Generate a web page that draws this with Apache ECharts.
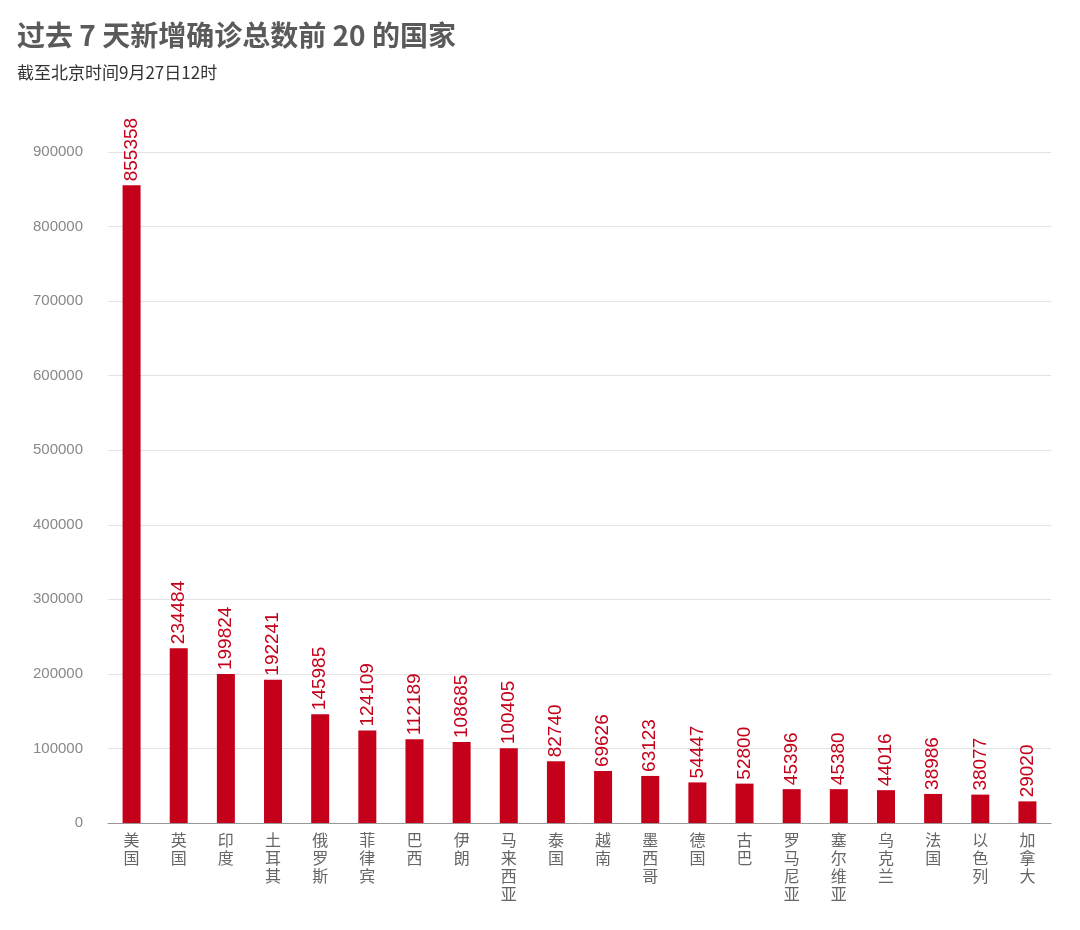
<!DOCTYPE html>
<html><head><meta charset="utf-8">
<script src="https://cdn.jsdelivr.net/npm/echarts@6/dist/echarts.min.js"></script>
<style>html,body{margin:0;padding:0;background:#fff}#c{width:1080px;height:930px}</style>
</head><body><div id="c"></div>
<script>
const categories = ['美国','英国','印度','土耳其','俄罗斯','菲律宾','巴西','伊朗','马来西亚','泰国','越南','墨西哥','德国','古巴','罗马尼亚','塞尔维亚','乌克兰','法国','以色列','加拿大'];
const values = [855358,234484,199824,192241,145985,124109,112189,108685,100405,82740,69626,63123,54447,52800,45396,45380,44016,38986,38077,29020];
const yTicks = [0,100000,200000,300000,400000,500000,600000,700000,800000,900000];

const chart = echarts.init(document.getElementById('c'));
chart.setOption({
  backgroundColor:'#fff',
  animation:false,
  title:{
    text:'过去 7 天新增确诊总数前 20 的国家',
    subtext:'截至北京时间9月27日12时',
    left:12, top:16,
    textStyle:{fontFamily:'Noto Sans CJK SC',fontSize:28,fontWeight:'bold',color:'#5a5a5a'},
    subtextStyle:{fontFamily:'Noto Sans CJK SC',fontSize:17,color:'#333'},
    itemGap:15
  },
  grid:{left:108,right:29,top:152,bottom:107,containLabel:false},
  xAxis:{
    type:'category',data:categories,
    axisLine:{lineStyle:{color:'#999'}},
    axisTick:{show:false},
    axisLabel:{
      interval:0,color:'#666',fontSize:16,lineHeight:18,margin:8,
      fontFamily:'Noto Sans CJK SC',
      formatter:v=>v.split('').join('\n')
    }
  },
  yAxis:{
    type:'value',min:0,max:yTicks[yTicks.length-1],interval:100000,
    axisLine:{show:false},axisTick:{show:false},
    axisLabel:{color:'#888',fontSize:15,margin:25,fontFamily:'Liberation Sans',formatter:v=>String(v)},
    splitLine:{lineStyle:{color:'#e3e3e3'}}
  },
  series:[{
    type:'bar',data:values,barWidth:18,
    itemStyle:{color:'#c4001a'},
    label:{show:true,position:'top',rotate:90,align:'left',verticalAlign:'middle',distance:4,
      color:'#c4001a',fontSize:19,fontFamily:'Liberation Sans'}
  }]
});
</script></body></html>
